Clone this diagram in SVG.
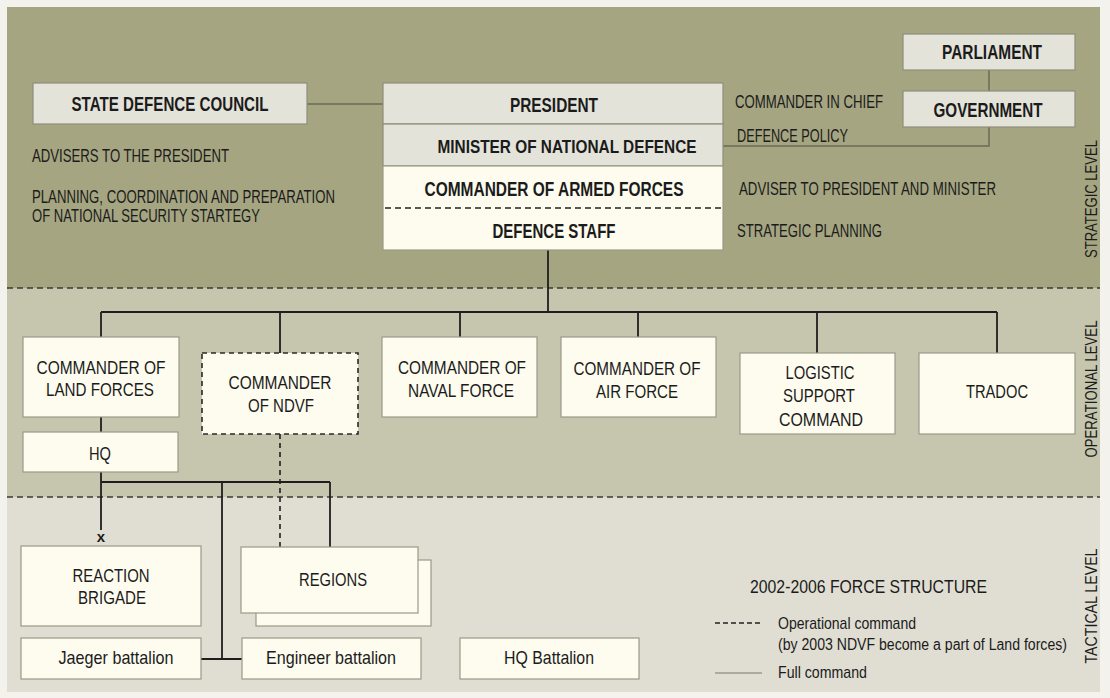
<svg xmlns="http://www.w3.org/2000/svg" width="1110" height="698" viewBox="0 0 1110 698">
<style>
text{font-family:'Liberation Sans',Arial,sans-serif;fill:#1b1b1b;}
.b{font-weight:bold;font-size:20px;}
.r{font-size:19px;}
.s{font-size:17px;}
.m{text-anchor:middle;}
.gbox{fill:#e4e3da;stroke:#8e8e7c;stroke-width:1.2;}
.cbox{fill:#fdfcef;stroke:#9a9a88;stroke-width:1.2;}
.band{stroke:#3a3a34;stroke-width:1.6;stroke-dasharray:6 4;fill:none;}
.ln{stroke:#1e1e1e;stroke-width:1.8;fill:none;}
.dl{stroke:#1e1e1e;stroke-width:1.6;fill:none;stroke-dasharray:5 4;}
.gl{stroke:#6b6b55;stroke-width:1.5;fill:none;}
</style>
<rect x="0" y="0" width="1110" height="698" fill="#f3f2ec"/>
<g id="bands">
<rect x="7" y="7" width="1093" height="281" fill="#a5a581"/>
<rect x="7" y="288" width="1093" height="209" fill="#c6c5ae"/>
<rect x="7" y="497" width="1093" height="195" fill="#e0ded2"/>
<line class="band" x1="7" y1="288" x2="1100" y2="288"/>
<line class="band" x1="7" y1="497" x2="1100" y2="497"/>
<text class="s m" transform="translate(1097,199) rotate(-90)" textLength="118" lengthAdjust="spacingAndGlyphs">STRATEGIC LEVEL</text>
<text class="s m" transform="translate(1097,389) rotate(-90)" textLength="137" lengthAdjust="spacingAndGlyphs">OPERATIONAL LEVEL</text>
<text class="s m" transform="translate(1097,606) rotate(-90)" textLength="115" lengthAdjust="spacingAndGlyphs">TACTICAL LEVEL</text>
</g>
<g id="connectors">
<line class="gl" x1="307" y1="104" x2="384" y2="104"/>
<line class="gl" x1="989" y1="70" x2="989" y2="91"/>
<polyline class="gl" points="989,127 989,146 723,146"/>
<line class="ln" x1="548" y1="250" x2="548" y2="312"/>
<line class="ln" x1="101" y1="312" x2="997" y2="312"/>
<line class="ln" x1="101" y1="312" x2="101" y2="337"/>
<line class="ln" x1="280" y1="312" x2="280" y2="353"/>
<line class="ln" x1="460" y1="312" x2="460" y2="337"/>
<line class="ln" x1="638" y1="312" x2="638" y2="337"/>
<line class="ln" x1="817" y1="312" x2="817" y2="353"/>
<line class="ln" x1="997" y1="312" x2="997" y2="353"/>
<line class="ln" x1="101" y1="417" x2="101" y2="432"/>
<line class="ln" x1="101" y1="472" x2="101" y2="530"/>
<line class="ln" x1="101" y1="482" x2="330" y2="482"/>
<line class="ln" x1="222" y1="482" x2="222" y2="659"/>
<line class="ln" x1="330" y1="482" x2="330" y2="547"/>
<line class="dl" x1="280" y1="434" x2="280" y2="547"/>
<line class="ln" x1="201" y1="659" x2="242" y2="659"/>
<text x="101" y="542" class="m" style="font-size:15px;font-weight:bold">x</text>
</g>
<g id="state-defence-council">
<rect class="gbox" x="33" y="83" width="274" height="41"/>
<text class="b m" x="170" y="111" textLength="197" lengthAdjust="spacingAndGlyphs">STATE DEFENCE COUNCIL</text>
</g>
<g id="sdc-notes">
<text class="r" x="32" y="162" textLength="197" lengthAdjust="spacingAndGlyphs">ADVISERS TO THE PRESIDENT</text>
<text class="r" x="32" y="203" textLength="303" lengthAdjust="spacingAndGlyphs">PLANNING, COORDINATION AND PREPARATION</text>
<text class="r" x="32" y="222" textLength="228" lengthAdjust="spacingAndGlyphs">OF NATIONAL SECURITY STARTEGY</text>
</g>
<g id="president">
<rect class="gbox" x="383" y="83" width="340" height="41"/>
<text class="b m" x="554" y="112" textLength="88" lengthAdjust="spacingAndGlyphs">PRESIDENT</text>
</g>
<g id="minister">
<rect class="gbox" x="383" y="124" width="340" height="42"/>
<text class="m" x="567" y="153" style="font-weight:bold;font-size:18.5px" textLength="259" lengthAdjust="spacingAndGlyphs">MINISTER OF NATIONAL DEFENCE</text>
</g>
<g id="commander-armed-forces">
<rect class="cbox" x="383" y="166" width="340" height="84"/>
<line x1="385" y1="208" x2="721" y2="208" stroke="#222" stroke-width="1.5" stroke-dasharray="6 4"/>
<text class="b m" x="554" y="196" textLength="259" lengthAdjust="spacingAndGlyphs">COMMANDER OF ARMED FORCES</text>
</g>
<g id="defence-staff">
<text class="b m" x="554" y="238" textLength="123" lengthAdjust="spacingAndGlyphs">DEFENCE STAFF</text>
</g>
<g id="parliament">
<rect class="gbox" x="903" y="34" width="172" height="36"/>
<text class="b m" x="992" y="59" textLength="100" lengthAdjust="spacingAndGlyphs">PARLIAMENT</text>
</g>
<g id="government">
<rect class="gbox" x="903" y="91" width="172" height="36"/>
<text class="b m" x="988" y="117" textLength="109" lengthAdjust="spacingAndGlyphs">GOVERNMENT</text>
</g>
<g id="strategic-notes">
<text class="r" x="735" y="108" textLength="148" lengthAdjust="spacingAndGlyphs">COMMANDER IN CHIEF</text>
<text class="r" x="737" y="142" textLength="111" lengthAdjust="spacingAndGlyphs">DEFENCE POLICY</text>
<text class="r" x="739" y="195" textLength="257" lengthAdjust="spacingAndGlyphs">ADVISER TO PRESIDENT AND MINISTER</text>
<text class="r" x="737" y="237" textLength="145" lengthAdjust="spacingAndGlyphs">STRATEGIC PLANNING</text>
</g>
<g id="land-forces">
<rect class="cbox" x="23" y="337" width="156" height="80"/>
<text class="r m" x="101" y="374" textLength="129" lengthAdjust="spacingAndGlyphs">COMMANDER OF</text>
<text class="r m" x="100" y="396" textLength="108" lengthAdjust="spacingAndGlyphs">LAND FORCES</text>
</g>
<g id="ndvf">
<rect x="202" y="353" width="156" height="81" fill="#fdfcef" stroke="#2a2a2a" stroke-width="1.6" stroke-dasharray="5 4"/>
<text class="r m" x="280" y="389" textLength="103" lengthAdjust="spacingAndGlyphs">COMMANDER</text>
<text class="r m" x="281" y="412" textLength="66" lengthAdjust="spacingAndGlyphs">OF NDVF</text>
</g>
<g id="naval-force">
<rect class="cbox" x="382" y="337" width="155" height="80"/>
<text class="r m" x="462" y="374" textLength="128" lengthAdjust="spacingAndGlyphs">COMMANDER OF</text>
<text class="r m" x="461" y="397" textLength="106" lengthAdjust="spacingAndGlyphs">NAVAL FORCE</text>
</g>
<g id="air-force">
<rect class="cbox" x="561" y="337" width="155" height="80"/>
<text class="r m" x="637" y="375" textLength="127" lengthAdjust="spacingAndGlyphs">COMMANDER OF</text>
<text class="r m" x="637" y="398" textLength="82" lengthAdjust="spacingAndGlyphs">AIR FORCE</text>
</g>
<g id="logistic-support">
<rect class="cbox" x="740" y="353" width="155" height="81"/>
<text class="r m" x="820" y="379" textLength="69" lengthAdjust="spacingAndGlyphs">LOGISTIC</text>
<text class="r m" x="819" y="402" textLength="72" lengthAdjust="spacingAndGlyphs">SUPPORT</text>
<text class="r m" x="821" y="426" textLength="84" lengthAdjust="spacingAndGlyphs">COMMAND</text>
</g>
<g id="tradoc">
<rect class="cbox" x="919" y="353" width="156" height="81"/>
<text class="r m" x="997" y="398" textLength="62" lengthAdjust="spacingAndGlyphs">TRADOC</text>
</g>
<g id="hq">
<rect class="cbox" x="23" y="432" width="155" height="40"/>
<text class="r m" x="100" y="460" textLength="22" lengthAdjust="spacingAndGlyphs">HQ</text>
</g>
<g id="reaction-brigade">
<rect class="cbox" x="21" y="546" width="180" height="80"/>
<text class="r m" x="111" y="582" textLength="77" lengthAdjust="spacingAndGlyphs">REACTION</text>
<text class="r m" x="112" y="604" textLength="68" lengthAdjust="spacingAndGlyphs">BRIGADE</text>
</g>
<g id="regions">
<rect class="cbox" x="256" y="560" width="175" height="66"/>
<rect class="cbox" x="241" y="547" width="177" height="66"/>
<text class="r m" x="333" y="586" textLength="68" lengthAdjust="spacingAndGlyphs">REGIONS</text>
</g>
<g id="jaeger-battalion">
<rect class="cbox" x="21" y="638" width="180" height="41"/>
<text class="r m" x="116" y="664" textLength="115" lengthAdjust="spacingAndGlyphs">Jaeger battalion</text>
</g>
<g id="engineer-battalion">
<rect class="cbox" x="242" y="638" width="179" height="41"/>
<text class="r m" x="331" y="664" textLength="130" lengthAdjust="spacingAndGlyphs">Engineer battalion</text>
</g>
<g id="hq-battalion">
<rect class="cbox" x="460" y="638" width="179" height="41"/>
<text class="r m" x="549" y="664" textLength="90" lengthAdjust="spacingAndGlyphs">HQ Battalion</text>
</g>
<g id="legend">
<text class="r" x="750" y="593" textLength="237" lengthAdjust="spacingAndGlyphs">2002-2006 FORCE STRUCTURE</text>
<line x1="715" y1="623" x2="762" y2="623" stroke="#222" stroke-width="1.5" stroke-dasharray="5 3"/>
<text class="s" x="778" y="629" textLength="138" lengthAdjust="spacingAndGlyphs">Operational command</text>
<text x="778" y="650" style="font-size:16px" textLength="289" lengthAdjust="spacingAndGlyphs">(by 2003 NDVF become a part of Land forces)</text>
<line x1="715" y1="673" x2="762" y2="673" stroke="#9a9a90" stroke-width="1.5"/>
<text class="s" x="778" y="678" textLength="89" lengthAdjust="spacingAndGlyphs">Full command</text>
</g>
</svg>
